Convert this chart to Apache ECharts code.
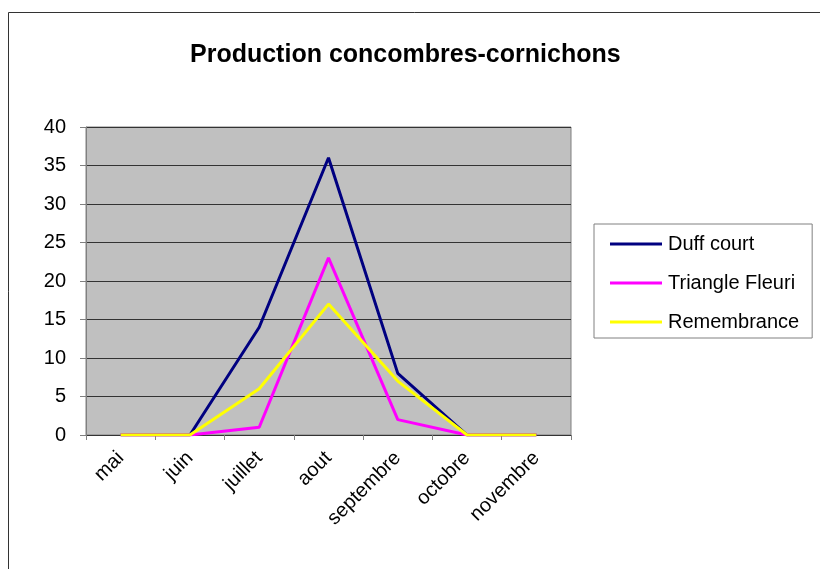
<!DOCTYPE html>
<html>
<head>
<meta charset="utf-8">
<script src="https://cdn.jsdelivr.net/npm/echarts@6/dist/echarts.min.js"></script>
<style>
  html, body { margin: 0; padding: 0; background: #fff; }
  #chart { width: 820px; height: 569px; }
</style>
</head>
<body>
<div id="chart"></div>
<script>
// données
const months = ['mai', 'juin', 'juillet', 'aout', 'septembre', 'octobre', 'novembre'];
const duffCourt = [0, 0, 14, 36, 8, 0, 0];
const triangleFleuri = [0, 0, 1, 23, 2, 0, 0];
const remembrance = [0, 0, 6, 17, 7, 0, 0];
const yTicks = { min: 0, max: 40, step: 5 };

const FONT = '"Liberation Sans", Arial, sans-serif';

const chart = echarts.init(document.getElementById('chart'));

function lineSerie(name, data, color) {
  return {
    name: name,
    type: 'line',
    data: data,
    symbol: 'none',
    lineStyle: { color: color, width: 3 },
    itemStyle: { color: color }
  };
}

chart.setOption({
  animation: false,
  textStyle: { fontFamily: FONT },
  title: {
    text: 'Production concombres-cornichons',
    left: 185,
    top: 38,
    textStyle: { fontFamily: FONT, fontSize: 25, fontWeight: 'bold', color: '#000' }
  },
  graphic: [{
    type: 'rect',
    shape: { x: 8.5, y: 12.5, width: 900, height: 700 },
    style: { fill: 'none', stroke: '#333', lineWidth: 1 },
    silent: true
  }],
  legend: {
    orient: 'vertical',
    left: 594,
    top: 224,
    padding: [10, 13, 6, 16],
    itemGap: 19,
    itemWidth: 52,
    itemHeight: 3,
    icon: 'rect',
    borderColor: '#808080',
    borderWidth: 1,
    textStyle: { fontFamily: FONT, fontSize: 20, color: '#000', padding: [0, 0, 0, 1] },
    data: ['Duff court', 'Triangle Fleuri', 'Remembrance']
  },
  grid: {
    left: 86, top: 127, width: 485, height: 308,
    show: true,
    backgroundColor: '#c0c0c0',
    borderColor: '#808080',
    borderWidth: 1
  },
  xAxis: {
    type: 'category',
    data: months,
    boundaryGap: true,
    axisLine: { lineStyle: { color: '#333', width: 1 } },
    axisTick: { show: true, length: 5, lineStyle: { color: '#808080' } },
    axisLabel: { rotate: 45, margin: 20, fontFamily: FONT, fontSize: 20, color: '#000' }
  },
  yAxis: {
    type: 'value',
    min: yTicks.min,
    max: yTicks.max,
    interval: yTicks.step,
    axisLine: { show: true, lineStyle: { color: '#808080' } },
    axisTick: { show: true, length: 6, lineStyle: { color: '#808080' } },
    axisLabel: { margin: 20, fontFamily: FONT, fontSize: 20, color: '#000' },
    splitLine: { show: true, lineStyle: { color: '#333', width: 1 } }
  },
  series: [
    lineSerie('Duff court', duffCourt, '#000080'),
    lineSerie('Triangle Fleuri', triangleFleuri, '#ff00ff'),
    lineSerie('Remembrance', remembrance, '#ffff00')
  ]
});
</script>
</body>
</html>
